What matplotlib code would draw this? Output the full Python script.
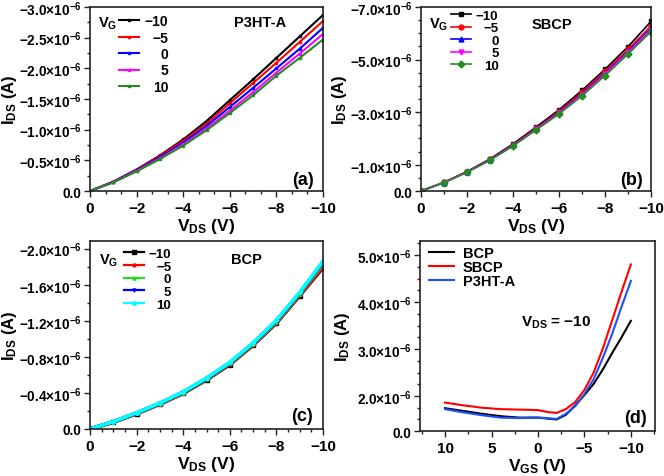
import matplotlib
matplotlib.use('Agg')
import matplotlib.pyplot as plt
from matplotlib.ticker import FixedLocator, MultipleLocator, FuncFormatter, FixedFormatter, AutoMinorLocator

plt.rcParams['font.family'] = ['Liberation Sans', 'DejaVu Sans']
plt.rcParams['font.weight'] = 'bold'
plt.rcParams['axes.labelweight'] = 'bold'
plt.rcParams['mathtext.fontset'] = 'custom'
plt.rcParams['mathtext.rm'] = 'Liberation Sans:bold'
plt.rcParams['mathtext.it'] = 'Liberation Sans:bold'
plt.rcParams['mathtext.bf'] = 'Liberation Sans:bold'
plt.rcParams['mathtext.sf'] = 'Liberation Sans:bold'
plt.rcParams['axes.unicode_minus'] = True

# ---------------- data ----------------
vds = [0, -1, -2, -3, -4, -5, -6, -7, -8, -9, -10]
vg_labels = ['\u221210', '\u22125', '0', '5', '10']

# (a) P3HT-A, |I_DS| in 1e-6 A
p3ht_vg_m10 = [0, 0.15, 0.35, 0.58, 0.84, 1.14, 1.48, 1.82, 2.17, 2.52, 2.87]
p3ht_vg_m5 = [0, 0.15, 0.35, 0.57, 0.82, 1.10, 1.43, 1.76, 2.09, 2.43, 2.77]
p3ht_vg_0 = [0, 0.15, 0.34, 0.55, 0.79, 1.06, 1.37, 1.68, 2.00, 2.32, 2.66]
p3ht_vg_5 = [0, 0.14, 0.33, 0.53, 0.76, 1.02, 1.31, 1.61, 1.93, 2.24, 2.56]
p3ht_vg_10 = [0, 0.14, 0.32, 0.52, 0.74, 0.99, 1.27, 1.56, 1.88, 2.17, 2.47]

# (b) SBCP
sbcp_vg_m10 = [0, 0.33, 0.74, 1.22, 1.79, 2.43, 3.09, 3.83, 4.63, 5.49, 6.45]
sbcp_vg_m5 = [0, 0.33, 0.73, 1.20, 1.76, 2.39, 3.03, 3.76, 4.55, 5.39, 6.28]
sbcp_vg_0 = [0, 0.32, 0.72, 1.19, 1.74, 2.36, 2.99, 3.70, 4.48, 5.31, 6.19]
sbcp_vg_5 = [0, 0.32, 0.72, 1.18, 1.73, 2.35, 2.97, 3.67, 4.45, 5.27, 6.14]
sbcp_vg_10 = [0, 0.32, 0.71, 1.17, 1.71, 2.32, 2.93, 3.62, 4.39, 5.21, 6.06]

# (c) BCP
bcp_vg_m10 = [0, 0.075, 0.170, 0.275, 0.395, 0.545, 0.715, 0.930, 1.175, 1.480, 1.79]
bcp_vg_m5 = [0, 0.077, 0.172, 0.278, 0.399, 0.550, 0.720, 0.935, 1.180, 1.485, 1.80]
bcp_vg_0 = [0, 0.079, 0.175, 0.282, 0.404, 0.556, 0.728, 0.943, 1.190, 1.500, 1.83]
bcp_vg_5 = [0, 0.081, 0.178, 0.286, 0.409, 0.562, 0.735, 0.952, 1.200, 1.510, 1.85]
bcp_vg_10 = [0, 0.082, 0.180, 0.288, 0.411, 0.565, 0.738, 0.955, 1.205, 1.515, 1.86]

# (d) transfer, V_DS = -10
vgs = [10, 8, 6, 4, 2, 0, -1, -2, -3, -4, -5, -6, -7, -8, -9, -10]
tr_bcp = [1.74, 1.68, 1.62, 1.57, 1.54, 1.54, 1.52, 1.50, 1.60, 1.80, 2.02, 2.26, 2.57, 2.92, 3.25, 3.60]
tr_sbcp = [1.86, 1.80, 1.75, 1.72, 1.71, 1.70, 1.66, 1.64, 1.72, 1.87, 2.13, 2.50, 3.02, 3.62, 4.22, 4.80]
tr_p3ht = [1.72, 1.65, 1.59, 1.54, 1.53, 1.54, 1.53, 1.51, 1.62, 1.78, 2.04, 2.36, 2.82, 3.33, 3.90, 4.45]
d_yticks = [1.255, 2.0, 3.0, 4.0, 5.0]
d_ytick_labels = ['0.0', r'$2.0{\times}10^{-6}$', r'$3.0{\times}10^{-6}$', r'$4.0{\times}10^{-6}$', r'$5.0{\times}10^{-6}$']

# ---------------- figure ----------------
fig = plt.figure(figsize=(6.64, 4.77), dpi=100)
axa = fig.add_axes([90/664, 1-192/477, 233/664, 184/477])
axb = fig.add_axes([421/664, 1-192/477, 230/664, 184/477])
axc = fig.add_axes([90/664, 1-430/477, 233/664, 188/477])
axd = fig.add_axes([420/664, 1-432/477, 235/664, 190/477])

def sci(v, pos):
    m = v / 1e-6
    if abs(m) < 1e-9:
        return '0.0'
    return r'$%.1f{\times}10^{-6}$' % m

def style(ax):
    for s in ax.spines.values():
        s.set_linewidth(1.2)
        s.set_color('#222222')
    ax.tick_params(which='both', direction='out', top=False, right=False, width=1.0, color='#222222')
    ax.tick_params(which='major', length=4)
    ax.tick_params(which='minor', length=2.5)
    ax.tick_params(axis='y', labelsize=9.8, pad=2)
    ax.tick_params(axis='x', labelsize=11, pad=3)

def right_align_legend(leg):
    fig.canvas.draw()
    r = fig.canvas.get_renderer()
    widths = [t.get_window_extent(r).width for t in leg.get_texts()]
    mw = max(widths)
    for t, w in zip(leg.get_texts(), widths):
        t.set_position((mw - w, 0))

def labels(ax, xl, ylx):
    ax.set_xlabel(xl, fontsize=12.5, labelpad=1)
    ax.set_ylabel(r'$\mathrm{I_{DS}}$ (A)', fontsize=12)
    ax.yaxis.set_label_coords(ylx, 0.5)

# ---- (a)
cols_a = ['black', 'red', 'blue', 'magenta', '#228B22']
series_a = [p3ht_vg_m10, p3ht_vg_m5, p3ht_vg_0, p3ht_vg_5, p3ht_vg_10]
for s, c, l in zip(series_a, cols_a, vg_labels):
    axa.plot(vds, [-v*1e-6 for v in s], color=c, lw=1.5, marker='s', ms=1.5, label=l)
axa.set_xlim(0, -10)
axa.set_ylim(0, -3.0e-6)
axa.xaxis.set_major_locator(MultipleLocator(2))
axa.xaxis.set_minor_locator(AutoMinorLocator(3))
axa.yaxis.set_major_locator(MultipleLocator(0.5e-6))
axa.yaxis.set_minor_locator(AutoMinorLocator(2))
axa.yaxis.set_major_formatter(FuncFormatter(sci))
style(axa)
labels(axa, r'$\mathrm{V_{DS}}$ (V)', -0.305)
lega = axa.legend(loc='upper left', bbox_to_anchor=(0.125, 0.96), frameon=False, fontsize=10,
                  handlelength=1.45, handletextpad=0.4, labelspacing=0.17, borderpad=0, borderaxespad=0)
right_align_legend(lega)
axa.text(0.035, 0.915, r'$\mathrm{V_G}$', transform=axa.transAxes, fontsize=10.5, ha='left', va='center')
axa.text(0.73, 0.92, 'P3HT-A', transform=axa.transAxes, fontsize=10.5, ha='center', va='center')
axa.text(0.915, 0.06, '(a)', transform=axa.transAxes, fontsize=13, ha='center', va='center')

# ---- (b)
cols_b = ['black', 'red', 'blue', 'magenta', '#228B22']
marks_b = ['s', 'o', '^', 'v', 'D']
series_b = [sbcp_vg_m10, sbcp_vg_m5, sbcp_vg_0, sbcp_vg_5, sbcp_vg_10]
for s, c, m, l in zip(series_b, cols_b, marks_b, vg_labels):
    axb.plot(vds, [-v*1e-6 for v in s], color=c, lw=1.2, marker=m, ms=3.5, label=l)
axb.set_xlim(0, -10)
axb.set_ylim(0, -7.0e-6)
axb.xaxis.set_major_locator(MultipleLocator(2))
axb.xaxis.set_minor_locator(MultipleLocator(1))
axb.yaxis.set_major_locator(FixedLocator([0, -1e-6, -3e-6, -5e-6, -7e-6]))
axb.yaxis.set_minor_locator(MultipleLocator(0.5e-6))
axb.yaxis.set_major_formatter(FuncFormatter(sci))
style(axb)
labels(axb, r'$\mathrm{V_{DS}}$ (V)', -0.315)
legb = axb.legend(loc='upper left', bbox_to_anchor=(0.13, 0.985), frameon=False, fontsize=9.5,
                  handlelength=1.5, handletextpad=0.4, labelspacing=0.02, borderpad=0, borderaxespad=0)
right_align_legend(legb)
axb.text(0.035, 0.91, r'$\mathrm{V_G}$', transform=axb.transAxes, fontsize=10.5, ha='left', va='center')
axb.text(0.57, 0.905, 'SBCP', transform=axb.transAxes, fontsize=10.5, ha='center', va='center')
axb.text(0.915, 0.06, '(b)', transform=axb.transAxes, fontsize=13, ha='center', va='center')

# ---- (c)
cols_c = ['black', 'red', '#22DD22', 'blue', 'cyan']
marks_c = ['s', 'o', '^', 'v', 'D']
series_c = [bcp_vg_m10, bcp_vg_m5, bcp_vg_0, bcp_vg_5, bcp_vg_10]
for s, c, m, l in zip(series_c, cols_c, marks_c, vg_labels):
    axc.plot(vds, [-v*1e-6 for v in s], color=c, lw=2.6, marker=m, ms=2.2, label=l)
axc.set_xlim(0, -10)
axc.set_ylim(0, -2.085e-6)
axc.xaxis.set_major_locator(MultipleLocator(2))
axc.xaxis.set_minor_locator(AutoMinorLocator(4))
axc.yaxis.set_major_locator(MultipleLocator(0.4e-6))
axc.yaxis.set_minor_locator(AutoMinorLocator(2))
axc.yaxis.set_major_formatter(FuncFormatter(sci))
style(axc)
labels(axc, r'$\mathrm{V_{DS}}$ (V)', -0.305)
legc = axc.legend(loc='upper left', bbox_to_anchor=(0.145, 0.965), frameon=False, fontsize=9.5,
                  handlelength=1.5, handletextpad=0.4, labelspacing=0.04, borderpad=0, borderaxespad=0)
for h in legc.legend_handles:
    h.set_linewidth(1.6)
right_align_legend(legc)
axc.text(0.04, 0.9, r'$\mathrm{V_G}$', transform=axc.transAxes, fontsize=10.5, ha='left', va='center')
axc.text(0.67, 0.905, 'BCP', transform=axc.transAxes, fontsize=10.5, ha='center', va='center')
axc.text(0.91, 0.07, '(c)', transform=axc.transAxes, fontsize=13, ha='center', va='center')

# ---- (d)
axd.plot(vgs, [v*1e-6 for v in tr_bcp], color='black', lw=1.5, label='BCP')
axd.plot(vgs, [v*1e-6 for v in tr_sbcp], color='red', lw=1.5, label='SBCP')
axd.plot(vgs, [v*1e-6 for v in tr_p3ht], color='#1a50ff', lw=1.5, label='P3HT-A')
axd.set_xlim(12.7, -12.6)
axd.set_ylim(1.255e-6, 5.30e-6)
axd.xaxis.set_major_locator(MultipleLocator(5))
axd.xaxis.set_minor_locator(MultipleLocator(2.5))
axd.yaxis.set_major_locator(FixedLocator([v*1e-6 for v in d_yticks]))
axd.yaxis.set_major_formatter(FixedFormatter(d_ytick_labels))
axd.yaxis.set_minor_locator(MultipleLocator(0.25e-6))
style(axd)
labels(axd, r'$\mathrm{V_{GS}}$ (V)', -0.29)
axd.legend(loc='upper left', bbox_to_anchor=(0.04, 0.975), frameon=False, fontsize=10.5,
           handlelength=1.7, handletextpad=0.6, labelspacing=0.0, borderpad=0, borderaxespad=0)
axd.text(0.58, 0.574, '$\\mathrm{V_{DS}}$ = \u221210', transform=axd.transAxes, fontsize=11, ha='center', va='center')
axd.text(0.915, 0.07, '(d)', transform=axd.transAxes, fontsize=13, ha='center', va='center')

fig.savefig('out.png', dpi=100)
